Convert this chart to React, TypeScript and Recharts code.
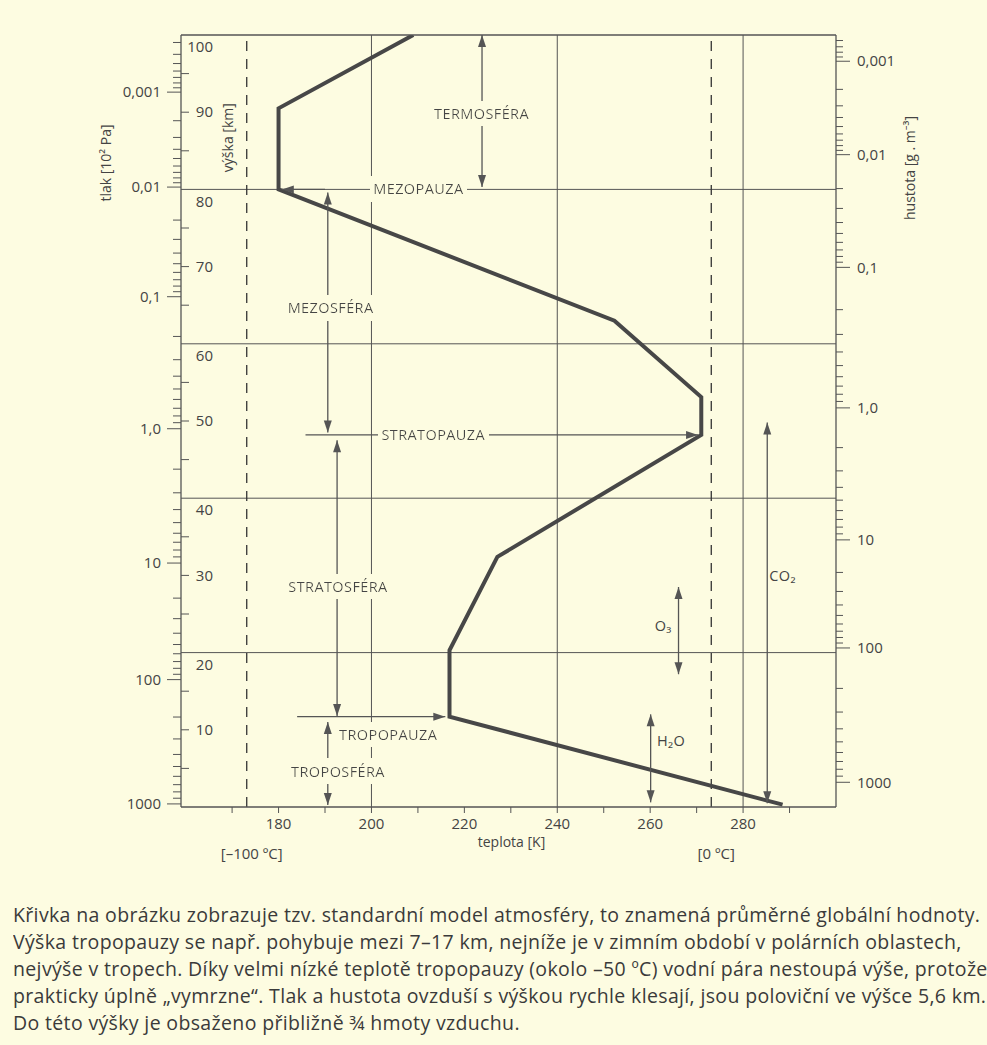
import React from 'react';
import {
  LineChart,
  Line,
  XAxis,
  YAxis,
  ReferenceLine,
  ReferenceDot,
} from 'recharts';

// standard atmosphere profile: temperature [K] vs altitude [km]
const profileTemp = [209, 180, 180, 252.3, 271, 271, 227.1, 216.8, 216.8, 288.5];
const profileAlt = [100, 90.5, 80, 63, 53.1, 48.2, 32.4, 20.3, 11.7, 0.3];

const tempTicks = [170, 180, 190, 200, 210, 220, 230, 240, 250, 260, 270, 280, 290];
const celsiusTemps = [173.15, 273.15];
const celsiusLabels = ['[–100 ºC]', '[0 ºC]'];
const gridTemps = [200, 240, 280];
const gridAlts = [20, 40, 60, 80];
const kmTicks = [5, 10, 15, 20, 25, 30, 35, 40, 45, 50, 55, 60, 65, 70, 75, 80, 85, 90, 95, 100];

// pressure [10^2 Pa] and density [g/m3] decades, placed at the altitude where the figure puts them
const pressureLabels = ['1000', '100', '10', '1,0', '0,1', '0,01', '0,001'];
const pressureAlts = [0.4, 16.5, 31.6, 49.0, 66.1, 80.3, 92.6];
const densityLabels = ['1000', '100', '10', '1,0', '0,1', '0,01', '0,001'];
const densityAlts = [3.2, 20.6, 34.6, 51.7, 69.9, 84.5, 96.6];

// layer names and trace gases
const noteTexts = ['TERMOSFÉRA', 'MEZOPAUZA', 'MEZOSFÉRA', 'STRATOPAUZA', 'STRATOSFÉRA', 'TROPOPAUZA', 'TROPOSFÉRA', 'O₃', 'H₂O', 'CO₂'];
const noteTemp = [223.7, 210.1, 191.2, 213.3, 192.8, 203.6, 192.8, 262.8, 264.5, 288.5];
const noteAlt = [89.8, 80, 64.6, 48.2, 28.5, 9.3, 4.6, 23.4, 8.5, 29.9];
const noteMasked = [true, true, true, true, true, true, true, false, false, false];

// arrows: from -> to (head at "to", and at "from" too when double)
const arrowFromTemp = [223.8, 190, 190.6, 185.8, 192.6, 184, 190.6, 266.1, 260.1, 285.2];
const arrowFromAlt = [80.3, 80, 79.6, 48.2, 47.5, 11.7, 11.0, 28.5, 12.0, 49.8];
const arrowToTemp = [223.8, 180.7, 190.6, 270.3, 192.6, 215.9, 190.6, 266.1, 260.1, 285.2];
const arrowToAlt = [100, 80, 48.5, 48.2, 11.8, 11.7, 0.25, 17.2, 0.6, 0.5];
const arrowDouble = [true, false, true, false, true, false, true, true, true, true];

const captionLines = [
  'Křivka na obrázku zobrazuje tzv. standardní model atmosféry, to znamená průměrné globální hodnoty.',
  'Výška tropopauzy se např. pohybuje mezi 7–17 km, nejníže je v zimním období v polárních oblastech,',
  'nejvýše v tropech. Díky velmi nízké teplotě tropopauzy (okolo –50 ºC) vodní pára nestoupá výše, protože',
  'prakticky úplně „vymrzne“. Tlak a hustota ovzduší s výškou rychle klesají, jsou poloviční ve výšce 5,6 km.',
  'Do této výšky je obsaženo přibližně ¾ hmoty vzduchu.',
];

const BG = '#fdfce1';
const INK = '#444';
const RULE = '#555';
const FONT = '"Open Sans", "Noto Sans", sans-serif';

const data = profileTemp.map((t, i) => ({ t, km: profileAlt[i] }));

// minor log ticks (2..9) inside each decade, decade heights taken from the figure
const logMinor = (alts: number[]) => {
  const out: number[] = [];
  for (let i = 0; i < alts.length; i++) {
    const low = alts[i];
    const high = i + 1 < alts.length ? alts[i + 1] : low + (low - alts[i - 1]);
    for (let k = 2; k <= 9; k++) {
      const a = high - (high - low) * Math.log10(k);
      if (a > 0 && a < 100) out.push(a);
    }
  }
  return out;
};

const pressureMinor = logMinor(pressureAlts);
const densityMinor = logMinor(densityAlts);

const labelAt = (alts: number[], labels: string[], v: number) => {
  const i = alts.indexOf(v);
  return i >= 0 ? labels[i] : null;
};

const numStyle = { fontFamily: FONT, fontSize: 15, fill: INK };

const PressureTick = ({ x, y, payload }: any) => {
  const label = labelAt(pressureAlts, pressureLabels, payload.value);
  const len = label ? 14 : 8;
  return (
    <g>
      <line x1={x - len} x2={x} y1={y} y2={y} stroke={RULE} strokeWidth={1} />
      {label && (
        <text x={x - len - 6} y={y} dy='0.35em' textAnchor='end' {...numStyle}>
          {label}
        </text>
      )}
    </g>
  );
};

const DensityTick = ({ x, y, payload }: any) => {
  const label = labelAt(densityAlts, densityLabels, payload.value);
  const len = label ? 14 : 7;
  return (
    <g>
      <line x1={x} x2={x + len} y1={y} y2={y} stroke={RULE} strokeWidth={1} />
      {label && (
        <text x={x + len + 7} y={y} dy='0.35em' textAnchor='start' {...numStyle}>
          {label}
        </text>
      )}
    </g>
  );
};

const KmTick = ({ x, y, payload }: any) => {
  const v = payload.value;
  const onGrid = v % 20 === 0;
  const labeled = v % 10 === 0;
  return (
    <g>
      {!onGrid && <line x1={x} x2={x + 8} y1={y} y2={y} stroke={RULE} strokeWidth={1} />}
      {labeled && (
        <text x={x + 32} y={onGrid ? y + 12 : y} dy='0.35em' textAnchor='end' {...numStyle}>
          {v}
        </text>
      )}
    </g>
  );
};

const TempTick = ({ x, y, payload }: any) => {
  const v = payload.value;
  const c = celsiusTemps.indexOf(v);
  if (c >= 0) {
    return (
      <text x={x + 5} y={y + 47} dy='0.35em' textAnchor='middle' {...numStyle}>
        {celsiusLabels[c]}
      </text>
    );
  }
  return (
    <g>
      <line x1={x} x2={x} y1={y} y2={y + 6} stroke={RULE} strokeWidth={1} />
      {v % 20 === 0 && (
        <text x={x} y={y + 17} dy='0.35em' textAnchor='middle' {...numStyle}>
          {v}
        </text>
      )}
    </g>
  );
};

const arrowShape = (both: boolean) => (p: any) => {
  const { x1, y1, x2, y2 } = p;
  const dx = x2 - x1;
  const dy = y2 - y1;
  const d = Math.hypot(dx, dy) || 1;
  const ux = dx / d;
  const uy = dy / d;
  const head = (tx: number, ty: number, sx: number, sy: number) => {
    const L = 12;
    const W = 4;
    const bx = tx - sx * L;
    const by = ty - sy * L;
    return `${tx},${ty} ${bx - sy * W},${by + sx * W} ${bx + sy * W},${by - sx * W}`;
  };
  return (
    <g>
      <line x1={x1} y1={y1} x2={x2} y2={y2} stroke={RULE} strokeWidth={1.3} />
      <polygon points={head(x2, y2, ux, uy)} fill={RULE} />
      {both && <polygon points={head(x1, y1, -ux, -uy)} fill={RULE} />}
    </g>
  );
};

const noteShape = (text: string, masked: boolean, i: number) => (p: any) => (
  <g>
    {masked && (
      <defs>
        <filter id={`note-bg-${i}`} x='-0.03' y='-0.14' width='1.06' height='1.28'>
          <feFlood floodColor={BG} />
          <feComposite in='SourceGraphic' operator='over' />
        </filter>
      </defs>
    )}
    <text
      x={p.cx}
      y={p.cy}
      dy='0.35em'
      textAnchor='middle'
      fontFamily={FONT}
      fontSize={14.5}
      letterSpacing={0.4}
      fill={INK}
      filter={masked ? `url(#note-bg-${i})` : undefined}
    >
      {text}
    </text>
  </g>
);

const rotatedShape = (text: string) => (p: any) => (
  <text
    x={p.cx}
    y={p.cy}
    dy='0.35em'
    textAnchor='middle'
    transform={`rotate(-90 ${p.cx} ${p.cy})`}
    fontFamily={FONT}
    fontSize={14}
    fill={INK}
  >
    {text}
  </text>
);

const sideLabel = (text: string, dx: number, dy: number) => ({ viewBox }: any) => {
  const x = viewBox.x + dx;
  const y = viewBox.y + dy;
  return (
    <text
      x={x}
      y={y}
      dy='0.35em'
      textAnchor='middle'
      transform={`rotate(-90 ${x} ${y})`}
      fontFamily={FONT}
      fontSize={14}
      fill={INK}
    >
      {text}
    </text>
  );
};

const App = () => {
  return (
    <div
      style={{
        position: 'absolute',
        left: 0,
        top: 0,
        width: 987,
        height: 1045,
        background: BG,
        overflow: 'hidden',
      }}
    >
      <LineChart
        width={987}
        height={870}
        data={data}
        margin={{ top: 35, right: 0, bottom: 0, left: 0 }}
      >
        <XAxis
          xAxisId='top'
          orientation='top'
          type='number'
          domain={[159, 300]}
          allowDataOverflow
          ticks={tempTicks}
          interval={0}
          mirror
          height={1}
          tick={false}
          tickSize={6}
          stroke={RULE}
          strokeWidth={1.3}
        />
        <YAxis
          yAxisId='km'
          orientation='left'
          type='number'
          domain={[0, 100]}
          allowDataOverflow
          ticks={kmTicks}
          interval={0}
          mirror
          width={1}
          axisLine={false}
          tickLine={false}
          tickSize={0}
          tickMargin={0}
          tick={(p: any) => <KmTick {...p} />}
        />
        <XAxis
          xAxisId='t'
          dataKey='t'
          type='number'
          domain={[159, 300]}
          allowDataOverflow
          ticks={[...tempTicks, ...celsiusTemps].sort((a, b) => a - b)}
          interval={0}
          height={63}
          tickLine={false}
          tickSize={0}
          tickMargin={0}
          stroke={RULE}
          strokeWidth={1.3}
          tick={(p: any) => <TempTick {...p} />}
          label={{
            content: ({ viewBox }: any) => (
              <text
                x={viewBox.x + viewBox.width / 2 + 3}
                y={viewBox.y + 35}
                dy='0.35em'
                textAnchor='middle'
                fontFamily={FONT}
                fontSize={14}
                fill={INK}
              >
                teplota [K]
              </text>
            ),
          }}
        />
        <YAxis
          yAxisId='p'
          orientation='left'
          type='number'
          domain={[0, 100]}
          allowDataOverflow
          ticks={[...pressureAlts, ...pressureMinor].sort((a, b) => a - b)}
          interval={0}
          width={181}
          tickLine={false}
          tickSize={0}
          tickMargin={0}
          stroke={RULE}
          strokeWidth={1.3}
          tick={(p: any) => <PressureTick {...p} />}
          label={{ content: sideLabel('tlak [10² Pa]', 106, 128) }}
        />
        <YAxis
          yAxisId='rho'
          orientation='right'
          type='number'
          domain={[0, 100]}
          allowDataOverflow
          ticks={[...densityAlts, ...densityMinor].sort((a, b) => a - b)}
          interval={0}
          width={151}
          tickLine={false}
          tickSize={0}
          tickMargin={0}
          stroke={RULE}
          strokeWidth={1.3}
          tick={(p: any) => <DensityTick {...p} />}
          label={{ content: sideLabel('hustota [g . m⁻³]', 74, 133) }}
        />

        {gridAlts.map((a) => (
          <ReferenceLine key={`h${a}`} xAxisId='t' yAxisId='p' y={a} stroke={RULE} strokeWidth={1} />
        ))}
        {gridTemps.map((t) => (
          <ReferenceLine key={`v${t}`} xAxisId='t' yAxisId='p' x={t} stroke={RULE} strokeWidth={1} />
        ))}
        {celsiusTemps.map((t) => (
          <ReferenceLine
            key={`c${t}`}
            xAxisId='t'
            yAxisId='p'
            x={t}
            stroke='#333'
            strokeWidth={1.3}
            strokeDasharray='10 8'
          />
        ))}

        <Line
          xAxisId='t'
          yAxisId='p'
          type='linear'
          dataKey='km'
          stroke='#474747'
          strokeWidth={4}
          dot={false}
          activeDot={false}
          isAnimationActive={false}
        />

        {arrowFromTemp.map((t, i) => (
          <ReferenceLine
            key={`a${i}`}
            xAxisId='t'
            yAxisId='p'
            ifOverflow='visible'
            segment={[
              { x: t, y: arrowFromAlt[i] },
              { x: arrowToTemp[i], y: arrowToAlt[i] },
            ]}
            shape={arrowShape(arrowDouble[i])}
          />
        ))}

        {noteTexts.map((s, i) => (
          <ReferenceDot
            key={`n${i}`}
            xAxisId='t'
            yAxisId='p'
            x={noteTemp[i]}
            y={noteAlt[i]}
            r={0}
            ifOverflow='visible'
            shape={noteShape(s, noteMasked[i], i)}
          />
        ))}
        <ReferenceDot
          xAxisId='t'
          yAxisId='p'
          x={169.2}
          y={86.7}
          r={0}
          ifOverflow='visible'
          shape={rotatedShape('výška [km]')}
        />
      </LineChart>

      <div
        style={{
          position: 'absolute',
          left: 13,
          top: 901,
          width: 974,
          overflow: 'hidden',
          whiteSpace: 'nowrap',
          fontFamily: FONT,
          fontSize: 19.5,
          letterSpacing: 0.35,
          lineHeight: '27px',
          color: '#3a3a3a',
        }}
      >
        {captionLines.map((l) => (
          <div key={l}>{l}</div>
        ))}
      </div>
    </div>
  );
};

export default App;
